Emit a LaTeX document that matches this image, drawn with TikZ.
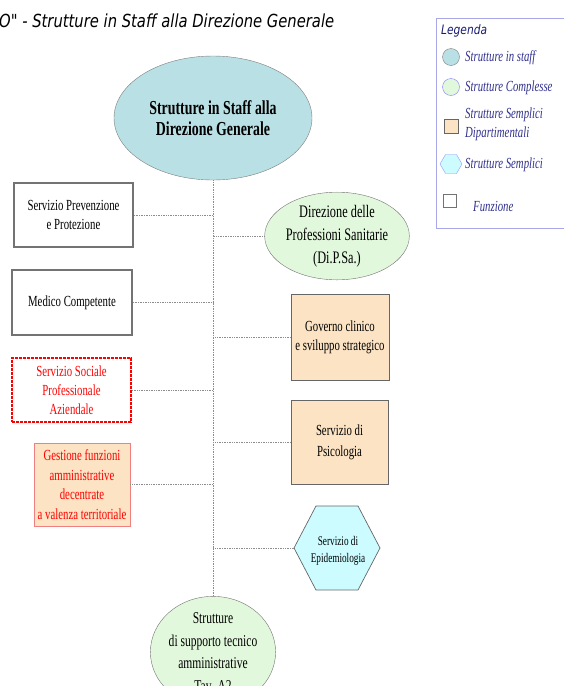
\documentclass[tikz,border=0pt]{standalone}
\usepackage{fontspec}
\setmainfont{Liberation Serif}[FakeStretch=0.7]
\newfontfamily\titlefont{DejaVu Sans}[FakeStretch=0.82]
\usetikzlibrary{shapes.geometric}
\definecolor{staffblu}{HTML}{B9E0E4}
\definecolor{compgreen}{HTML}{E2F8DC}
\definecolor{sdorange}{HTML}{FBE3C3}
\definecolor{semcyan}{HTML}{CCFCFF}
\definecolor{legblue}{HTML}{30308E}
\definecolor{legtitle}{HTML}{1A1A70}
\definecolor{legframe}{HTML}{A8A8E8}
\definecolor{pinkred}{HTML}{F08080}
\begin{document}
\begin{tikzpicture}[x=1pt,y=-1pt,
    link/.style={draw=black!45,densely dotted,line width=0.7pt},
    staff/.style={ellipse,draw=black!50,fill=staffblu,inner sep=0pt},
    compl/.style={ellipse,draw=black!55,fill=compgreen,inner sep=0pt},
    funz/.style={rectangle,draw=black!55,line width=1.6pt,inner sep=0pt,align=center},
    dip/.style={rectangle,draw=black!60,fill=sdorange,line width=0.8pt,inner sep=0pt,align=center},
    voce/.style={anchor=west,text=legblue,font=\itshape\fontsize{15.4}{19}\selectfont,inner sep=0pt,align=left},
    testo/.style={font=\fontsize{15.4}{19}\selectfont}]
    \useasboundingbox (0,0) rectangle (563,686);
    \node[anchor=west,inner sep=0pt,font=\titlefont\itshape\fontsize{18}{20}\selectfont] (titolo) at (-1,21) {O" - Strutture in Staff alla Direzione Generale};
    \node[staff,minimum width=198pt,minimum height=124pt,font=\bfseries\fontsize{19.8}{21}\selectfont,align=center] (dg) at (213,118) {Strutture in Staff alla\\Direzione Generale};
    \node[funz,testo,minimum width=119pt,minimum height=64pt] (spp) at (73.5,215) {Servizio Prevenzione\\e Protezione};
    \node[funz,testo,minimum width=120pt,minimum height=65pt] (mc) at (72,302.5) {Medico Competente};
    \node[funz,testo,draw=red,line width=2pt,dash pattern=on 3pt off 1pt,text=red,minimum width=119pt,minimum height=64pt] (sspa) at (71.5,390) {Servizio Sociale\\Professionale\\Aziendale};
    \node[dip,draw=pinkred,text=red,minimum width=96pt,minimum height=83pt,font=\fontsize{15.4}{19.5}\selectfont] (gfa) at (82,484.5) {Gestione funzioni\\amministrative\\decentrate\\a valenza territoriale};
    \node[compl,minimum width=110pt,minimum height=80pt,align=center,font=\fontsize{17.6}{23}\selectfont] (dps) at (337,236) {Direzione delle\\Professioni Sanitarie\\(Di.P.Sa.)};
    \node[dip,testo,minimum width=98pt,minimum height=86pt] (gcs) at (340,337) {Governo clinico\\e sviluppo strategico};
    \node[dip,minimum width=97pt,minimum height=84pt,font=\fontsize{15.4}{21}\selectfont] (psi) at (339.5,442) {Servizio di\\Psicologia};
    \coordinate (epiC) at (337,548);
    \draw[draw=black!60,fill=semcyan,line width=0.7pt] (epiC) ++(-43,0) coordinate (epiW) -- ++(22,-42) -- ++(42,0) -- ++(22,42) -- ++(-22,42) -- ++(-42,0) -- cycle;
    \node[font=\fontsize{13.2}{17}\selectfont,align=center] (epi) at (338,551) {Servizio di\\Epidemiologia};
    \node[compl,minimum width=117pt,minimum height=92pt,align=center,font=\fontsize{16.5}{22.5}\selectfont] (sup) at (213,652) {Strutture\\di supporto tecnico\\amministrative\\Tav. A2};
    \coordinate (tronco) at (213,0);
    \draw[link] (dg.south) -- (sup.north);
    \draw[link] (spp.east) -- (spp.east -| tronco);
    \draw[link] (mc.east) -- (mc.east -| tronco);
    \draw[link] (sspa.east) -- (sspa.east -| tronco);
    \draw[link] (gfa.east) -- (gfa.east -| tronco);
    \draw[link] (dps.west) -- (dps.west -| tronco);
    \draw[link] (gcs.west) -- (gcs.west -| tronco);
    \draw[link] (psi.west) -- (psi.west -| tronco);
    \draw[link] (epiW) -- (epiW -| tronco);
    \node[draw=legframe,line width=1pt,minimum width=136pt,minimum height=210pt,anchor=north west,inner sep=0pt] (legenda) at (436,18) {};
    \node[anchor=west,text=legtitle,inner sep=0pt,font=\titlefont\itshape\fontsize{13}{15}\selectfont] (legtit) at (441,31) {Legenda};
    \node[staff,minimum size=17pt] (l1) at (451,57) {};
    \node[voce] (t1) at (465,58) {Strutture in staff};
    \node[compl,draw=blue!50,minimum size=17pt] (l2) at (451,87) {};
    \node[voce] (t2) at (465,88) {Strutture Complesse};
    \node[dip,minimum size=14pt] (l3) at (451,126) {};
    \node[voce] (t3) at (465,124) {Strutture Semplici\\Dipartimentali};
    \node[regular polygon,regular polygon sides=6,draw=blue!40,fill=semcyan,minimum size=22pt,inner sep=0pt] (l4) at (451,164) {};
    \node[voce] (t4) at (465,165) {Strutture Semplici};
    \node[funz,line width=1.4pt,minimum size=13pt] (l5) at (450,201) {};
    \node[voce] (t5) at (473,206) {Funzione};
\end{tikzpicture}
\end{document}
